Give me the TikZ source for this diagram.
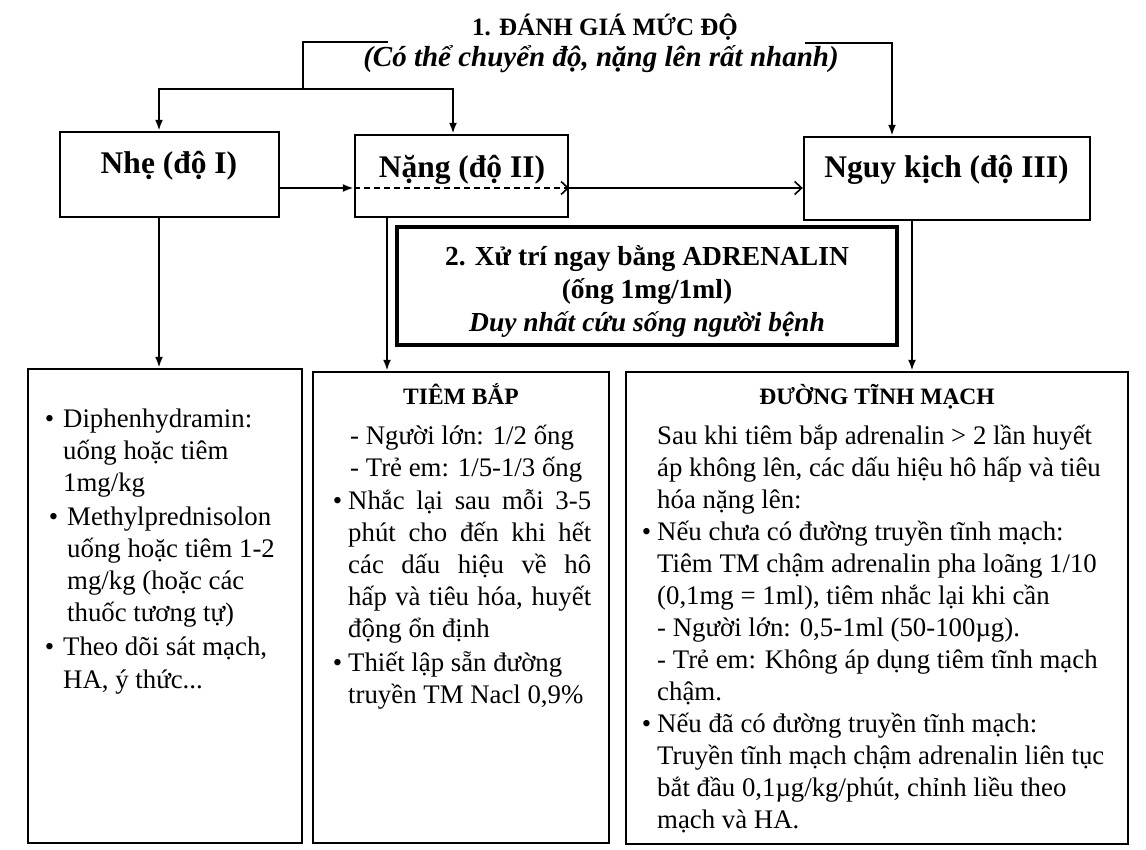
\documentclass[tikz,border=0pt]{standalone}
\usepackage{fontspec}
\setmainfont{Liberation Serif}
\usetikzlibrary{arrows.meta}
\newcommand{\mybul}[1]{\leavevmode\llap{•\hspace{#1}}}
\begin{document}
\begin{tikzpicture}[x=1pt,y=-1pt,
  box/.style={draw, line width=2.4pt, inner sep=0pt},
  conn/.style={line width=2.2pt},
  fillarrow/.style={-{Latex[length=11pt,width=8pt]}},
  openarrow/.style={-{Straight Barb[length=7pt,width=13pt,line width=1.6pt]}},
  lab/.style={font=\fontsize{31.5}{36}\selectfont\bfseries, inner sep=0pt, anchor=base},
  head/.style={font=\fontsize{23.5}{28}\selectfont\bfseries, inner sep=0pt, anchor=base},
  adrtxt/.style={font=\fontsize{27.5}{33}\selectfont\bfseries, inner sep=0pt, anchor=base},
  body/.style={font=\fontsize{26.8}{32}\selectfont, inner sep=0pt, anchor=base west},
 ]
\useasboundingbox (0,0) rectangle (1146,850);
\fill[white] (0,0) rectangle (1146,850);

% titles
\node[font=\fontsize{25}{30}\selectfont\bfseries, inner sep=0pt, anchor=base] (title) at (605,36) {1. ĐÁNH GIÁ MỨC ĐỘ};
\node[font=\fontsize{29}{34}\selectfont\bfseries\itshape, inner sep=0pt, anchor=base] (sub) at (601,67) {(Có thể chuyển độ, nặng lên rất nhanh)};

% level boxes
\node[box, minimum width=219pt, minimum height=85pt] (nhe) at (169.5,174.5) {};
\node[lab] (nheT) at (169,174) {Nhẹ (độ I)};
\node[box, minimum width=213pt, minimum height=82pt] (nang) at (461.5,176) {};
\node[lab] (nangT) at (462,178) {Nặng (độ II)};
\node[box, minimum width=286pt, minimum height=83pt] (nguy) at (947,178.5) {};
\node[lab] (nguyT) at (946.5,178) {Nguy kịch (độ III)};

% adrenalin box
\node[draw, line width=3.2pt, inner sep=0pt, minimum width=500pt, minimum height=118pt] (adr) at (647,286) {};
\node[adrtxt] (adr1) at (647,266) {2. Xử trí ngay bằng ADRENALIN};
\node[adrtxt] (adr2) at (647,299) {(ống 1mg/1ml)};
\node[adrtxt, font=\fontsize{27.5}{33}\selectfont\bfseries\itshape] (adr3) at (647,331) {Duy nhất cứu sống người bệnh};

% bottom boxes
\node[box, minimum width=274pt, minimum height=474pt] (b1) at (165,606) {};
\node[box, minimum width=296pt, minimum height=471pt] (b2) at (461,607.5) {};
\node[box, minimum width=502pt, minimum height=472pt] (b3) at (877,608) {};

\node[body] (b1t) at (63,427) {\parbox[t]{236pt}{\raggedright
\mybul{9pt}Diphenhydramin:\\
uống hoặc tiêm\\
1mg/kg\\[2pt]
\hspace*{4pt}\llap{•\hspace{9pt}}Methylprednisolon\\
\hspace*{4pt}uống hoặc tiêm 1-2\\
\hspace*{4pt}mg/kg (hoặc các\\
\hspace*{4pt}thuốc tương tự)\\[3pt]
\mybul{9pt}Theo dõi sát mạch,\\
HA, ý thức...}};

\node[head] (b2h) at (461,404) {TIÊM BẮP};
\node[body] (b2t) at (348,444) {\parbox[t]{243pt}{\raggedright
\hspace*{2pt}- Người lớn: 1/2 ống\\
\hspace*{2pt}- Trẻ em: 1/5-1/3 ống\\[1pt]
\mybul{6pt}\makebox[243pt][s]{Nhắc lại sau mỗi 3-5}\\
\makebox[243pt][s]{phút cho đến khi hết}\\
\makebox[243pt][s]{các dấu hiệu về hô}\\
\makebox[243pt][s]{hấp và tiêu hóa, huyết}\\
động ổn định\\[2pt]
\mybul{6pt}Thiết lập sẵn đường\\
truyền TM Nacl 0,9\%}};

\node[head] (b3h) at (877,404) {ĐƯỜNG TĨNH MẠCH};
\node[body] (b3t) at (657,444) {\parbox[t]{465pt}{\raggedright
Sau khi tiêm bắp adrenalin > 2 lần huyết\\
áp không lên, các dấu hiệu hô hấp và tiêu\\
hóa nặng lên:\\
\mybul{6pt}Nếu chưa có đường truyền tĩnh mạch:\\
Tiêm TM chậm adrenalin pha loãng 1/10\\
(0,1mg = 1ml), tiêm nhắc lại khi cần\\
- Người lớn: 0,5-1ml (50-100µg).\\
- Trẻ em: Không áp dụng tiêm tĩnh mạch\\
chậm.\\
\mybul{6pt}Nếu đã có đường truyền tĩnh mạch:\\
Truyền tĩnh mạch chậm adrenalin liên tục\\
bắt đầu 0,1µg/kg/phút, chỉnh liều theo\\
mạch và HA.}};

% connectors from title
\coordinate (tl) at (388,42);
\coordinate (jl) at (303,89);
\coordinate (tr) at (805,43);
\draw[conn] (tl) -| (jl);
\draw[conn, fillarrow] (jl) -| ([xshift=-10.5pt]nhe.north);
\draw[conn, fillarrow] (jl) -| ([xshift=-8.5pt]nang.north);
\draw[conn, fillarrow] (tr) -| ([xshift=-55pt]nguy.north);

% horizontal progression
\draw[conn, fillarrow] ([yshift=-13.5pt]nhe.east) -- ([yshift=-13.5pt]nhe.east -| nang.west);
\draw[line width=1.8pt, dash pattern=on 6pt off 4pt, openarrow] ([yshift=-12pt]nang.west) -- ([yshift=-12pt]nang.east);
\draw[conn, openarrow] ([yshift=-12pt]nang.east) -- ([yshift=-12pt]nang.east -| nguy.west);

% down arrows
\draw[conn, fillarrow] ([xshift=-10.5pt]nhe.south) -- ([xshift=-10.5pt]nhe.south |- b1.north);
\draw[conn, fillarrow] ([xshift=-74.5pt]nang.south) -- ([xshift=-74.5pt]nang.south |- b2.north);
\draw[conn, fillarrow] ([xshift=-35pt]nguy.south) -- ([xshift=-35pt]nguy.south |- b3.north);
\end{tikzpicture}
\end{document}
